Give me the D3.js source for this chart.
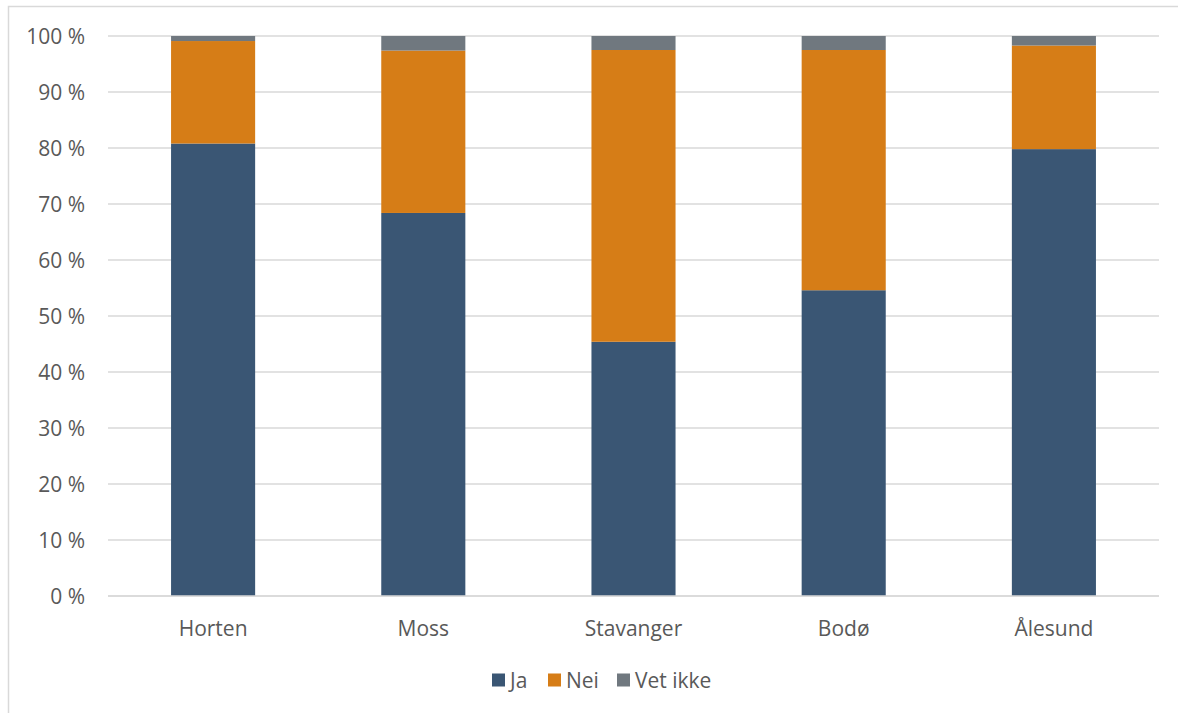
<!DOCTYPE html>
<html>
<head>
<meta charset="utf-8">
<script src="https://cdn.jsdelivr.net/npm/d3@7"></script>
<style>
  body { margin: 0; background: #fff; }
  text { font-family: "Open Sans", Lato, sans-serif; fill: #595959; }
</style>
</head>
<body>
<svg id="chart" width="1178" height="713"></svg>
<script>
// Data (percent of answers)
const categories = ['Horten', 'Moss', 'Stavanger', 'Bodø', 'Ålesund'];
const seriesNames = ['Ja', 'Nei', 'Vet ikke'];
const jaValues = [80.8, 68.4, 45.4, 54.6, 79.8];
const neiValues = [18.3, 29.0, 52.1, 42.9, 18.5];
const vetIkkeValues = [0.9, 2.6, 2.5, 2.5, 1.7];
const yTicks = [0, 10, 20, 30, 40, 50, 60, 70, 80, 90, 100];
const colors = ['#3A5674', '#D67D17', '#70787F'];

const rows = categories.map((c, i) => ({
    cat: c, 'Ja': jaValues[i], 'Nei': neiValues[i], 'Vet ikke': vetIkkeValues[i]
}));

const svg = d3.select('#chart');
const W = 1178, H = 713;
const m = { left: 108, right: 1159, top: 36, bottom: 596 };

// outer chart border
svg.append('rect')
    .attr('x', 8.5).attr('y', 6.5)
    .attr('width', W + 10).attr('height', H + 10)
    .attr('fill', 'none').attr('stroke', '#d9d9d9').attr('stroke-width', 1.5);

const x = d3.scaleBand().domain(categories).range([m.left, m.right]).paddingInner(0.6).paddingOuter(0.3);
const y = d3.scaleLinear().domain([0, 100]).range([m.bottom, m.top]);

// gridlines
svg.append('g').selectAll('line').data(yTicks).enter().append('line')
    .attr('x1', m.left).attr('x2', m.right)
    .attr('y1', d => y(d)).attr('y2', d => y(d))
    .attr('stroke', '#d9d9d9').attr('stroke-width', 1.5);

// y tick labels
svg.append('g').selectAll('text').data(yTicks).enter().append('text')
    .attr('x', 85).attr('y', d => y(d))
    .attr('text-anchor', 'end').attr('dominant-baseline', 'central')
    .style('font-size', '21px')
    .text(d => d + ' %');

// stacked bars
const stack = d3.stack().keys(seriesNames)(rows);
svg.append('g').selectAll('g').data(stack).enter().append('g')
    .attr('fill', (d, i) => colors[i])
    .selectAll('rect').data(d => d).enter().append('rect')
    .attr('x', d => x(d.data.cat))
    .attr('width', x.bandwidth())
    .attr('y', d => y(d[1]))
    .attr('height', d => y(d[0]) - y(d[1]));

// x axis line (drawn over bars)
svg.append('line')
    .attr('x1', m.left).attr('x2', m.right)
    .attr('y1', y(0)).attr('y2', y(0))
    .attr('stroke', '#d9d9d9').attr('stroke-width', 1.5);

// category labels
svg.append('g').selectAll('text').data(categories).enter().append('text')
    .attr('x', d => x(d) + x.bandwidth() / 2).attr('y', 628)
    .attr('text-anchor', 'middle').attr('dominant-baseline', 'central')
    .style('font-size', '21px')
    .text(d => d);

// legend
const legendX = [492, 548, 617];
const lg = svg.append('g').selectAll('g').data(seriesNames).enter().append('g')
    .attr('transform', (d, i) => `translate(${legendX[i]},680)`);
lg.append('rect').attr('x', 0).attr('y', -6.5).attr('width', 13).attr('height', 13)
    .attr('fill', (d, i) => colors[i]);
lg.append('text').attr('x', 18).attr('y', 0).attr('dominant-baseline', 'central')
    .style('font-size', '21px').text(d => d);
</script>
</body>
</html>
